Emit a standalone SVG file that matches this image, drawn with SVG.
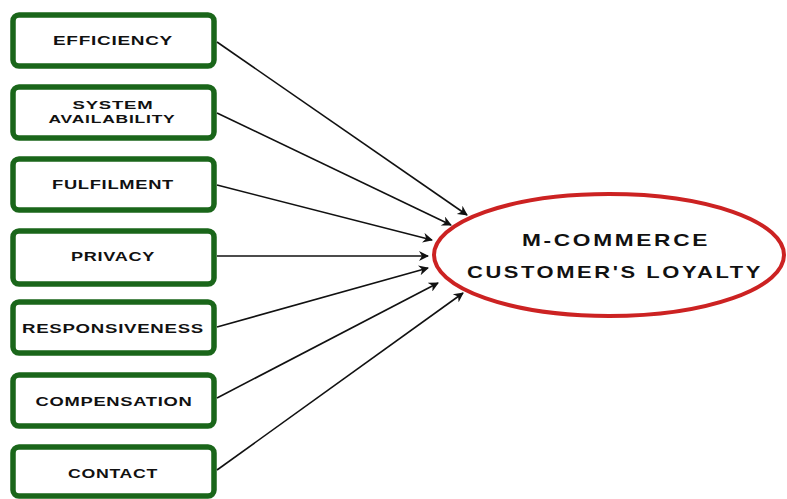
<svg xmlns="http://www.w3.org/2000/svg" width="787" height="499" viewBox="0 0 787 499">
<style>
.box{fill:#fff;stroke:#1a661a;stroke-width:5.5}
.lbl{font-family:"Liberation Sans",Arial,sans-serif;font-weight:bold;font-size:13px;fill:#111;text-anchor:middle;letter-spacing:0.5px}
.sm{font-size:11.5px}
.big{font-family:"Liberation Sans",Arial,sans-serif;font-weight:bold;font-size:17px;fill:#111;text-anchor:middle;letter-spacing:2px}
.conn line{stroke:#111;stroke-width:1.6;marker-end:url(#ah)}
</style>
<defs>
<marker id="ah" viewBox="0 0 10 10" refX="9" refY="5" markerWidth="11" markerHeight="10" markerUnits="userSpaceOnUse" orient="auto">
<path d="M0,0 L10,5 L0,10 L3,5 z" fill="#111"/>
</marker>
</defs>
<rect width="787" height="499" fill="#fff"/>
<g id="n1"><rect class="box" x="13" y="15" width="201" height="51" rx="6"/><text class="lbl" x="113" y="45" textLength="120" lengthAdjust="spacingAndGlyphs">EFFICIENCY</text></g>
<g id="n2"><rect class="box" x="13" y="87" width="201" height="51" rx="6"/><text class="lbl sm" x="113" y="109" textLength="81" lengthAdjust="spacingAndGlyphs">SYSTEM</text><text class="lbl sm" x="112" y="123" textLength="127" lengthAdjust="spacingAndGlyphs">AVAILABILITY</text></g>
<g id="n3"><rect class="box" x="13" y="159" width="201" height="51" rx="6"/><text class="lbl" x="113" y="189" textLength="122" lengthAdjust="spacingAndGlyphs">FULFILMENT</text></g>
<g id="n4"><rect class="box" x="13" y="231" width="201" height="53" rx="6"/><text class="lbl" x="113" y="261" textLength="84" lengthAdjust="spacingAndGlyphs">PRIVACY</text></g>
<g id="n5"><rect class="box" x="13" y="302" width="201" height="51" rx="6"/><text class="lbl" x="113" y="333" textLength="182" lengthAdjust="spacingAndGlyphs">RESPONSIVENESS</text></g>
<g id="n6"><rect class="box" x="13" y="375" width="201" height="51" rx="6"/><text class="lbl" x="114" y="406" textLength="157" lengthAdjust="spacingAndGlyphs">COMPENSATION</text></g>
<g id="n7"><rect class="box" x="13" y="447" width="201" height="49" rx="6"/><text class="lbl" x="113" y="478" textLength="90" lengthAdjust="spacingAndGlyphs">CONTACT</text></g>
<g id="target"><ellipse cx="609" cy="255" rx="175" ry="61" fill="#fff" stroke="#cc2222" stroke-width="4"/><text class="big" x="616" y="246" textLength="188" lengthAdjust="spacingAndGlyphs">M-COMMERCE</text><text class="big" x="615" y="278" textLength="296" lengthAdjust="spacingAndGlyphs">CUSTOMER'S LOYALTY</text></g>
<g id="connectors" class="conn">
<line x1="217" y1="42" x2="467" y2="215"/>
<line x1="217" y1="113" x2="451" y2="225"/>
<line x1="217" y1="185" x2="432" y2="240"/>
<line x1="217" y1="256" x2="428" y2="256"/>
<line x1="217" y1="327" x2="428" y2="268"/>
<line x1="217" y1="398" x2="438" y2="283"/>
<line x1="217" y1="470" x2="463" y2="293"/>
</g>
</svg>
